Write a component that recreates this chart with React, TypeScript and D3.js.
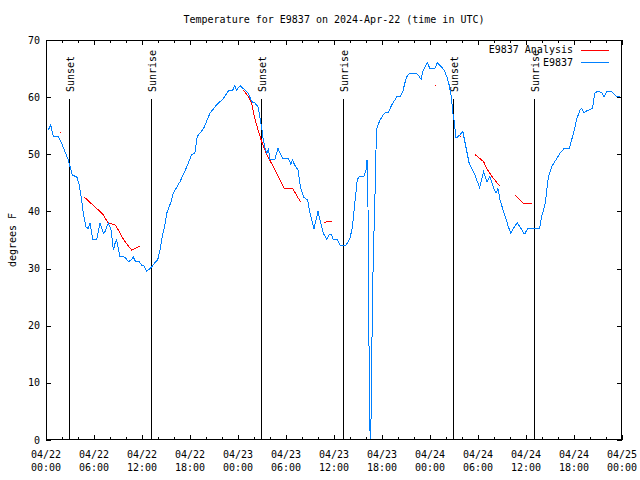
import React from "react";
import * as d3 from "d3";

// ---- data (hours since 2024-04-22 00:00 UTC) ----
const blueHours: number[] = [
  0.29, 0.59, 0.91, 1.54, 1.96, 2.79, 3.29, 3.84, 4.16, 4.46, 4.66, 5.0, 5.29, 5.5, 5.84, 6.34, 6.75, 7.16, 7.38,
  7.79, 8.13, 8.29, 8.42, 8.63, 8.83, 9.04, 9.25, 9.88, 10.29, 10.63, 10.92, 11.2, 11.67, 11.96, 12.29, 12.58,
  12.79, 13.2, 13.6, 13.96, 14.25, 14.54, 14.9, 15.1, 15.4, 15.7, 15.9, 16.75, 17.6, 18.2, 18.6, 18.9, 19.7,
  20.5, 21.3, 22.2, 22.8, 23.3, 23.6, 23.8, 24.3, 24.66, 25.3, 25.7, 26.1, 26.5, 26.8, 27.0, 27.16, 27.4, 27.6,
  27.8, 28.0, 28.6, 29.0, 29.6, 30.3, 30.6, 30.8, 31.1, 31.5, 31.8, 32.2, 32.7, 33.0, 33.5, 33.8, 34.0, 34.3,
  34.66, 35.1, 35.4, 35.7, 35.9, 36.4, 36.75, 37.5, 38.0, 38.3, 38.6, 38.9, 39.2, 39.75, 40.0, 40.1, 40.2,
  40.25, 40.33, 40.46, 40.6, 40.7, 40.9, 41.1, 41.25, 41.3, 41.5, 41.75, 42.2, 42.4, 42.8, 43.2, 43.6, 43.9,
  44.3, 44.6, 44.9, 45.1, 45.5, 46.25, 46.5, 46.9, 47.1, 47.66, 48.0, 48.6, 48.9, 49.3, 49.75, 50.1, 50.4, 50.7,
  50.8, 51.0, 51.25, 51.5, 51.75, 52.1, 52.4, 52.6, 52.9, 53.2, 53.6, 54.2, 54.7, 55.1, 55.5, 55.9, 56.25, 56.5,
  56.75, 57.4, 57.8, 58.1, 58.5, 58.9, 59.3, 59.7, 59.9, 60.2, 61.7, 61.96, 62.4, 62.8, 63.2, 63.6, 64.25, 64.75,
  65.4, 65.7, 66.1, 66.3, 66.75, 66.96, 67.25, 67.6, 68.3, 68.6, 69.0, 69.5, 69.75, 70.1, 70.7, 71.25, 71.75,
];
const blueTemps: number[] = [
  54.25, 55.1, 53.2, 53.1, 51.9, 49, 46.3, 46.1, 44.6, 42, 39.7, 37.3, 37, 38, 35.1, 35.1, 38, 36.2, 36.5,
  38, 36.75, 35, 33.25, 34.4, 35, 33.5, 32.1, 32, 31.2, 31.5, 32, 31.2, 31.2, 30.6, 30.45, 29.5,
  29.75, 30.3, 31, 31.5, 33.25, 35.6, 37.9, 39.7, 40.8, 42, 43.2, 45.2, 47.8, 49.9, 50.2, 53.1, 54.5,
  57.2, 58.6, 59.8, 61.1, 61.1, 62, 61.25, 62, 61.5, 60.7, 59.2, 59, 58.3, 56, 54.25, 52.5, 51, 50.2,
  50.9, 49.1, 49.1, 51, 49.2, 49.2, 48.3, 49, 48.1, 47.25, 44.3, 42.5, 42, 39.7, 37, 38.8, 40, 38.2,
  36.2, 35.1, 36, 35.9, 35.1, 35.1, 34.1, 34.1, 35.3, 37.3, 41.4, 45.5, 46.2, 46.2, 47.25, 49, 49,
  40.8, 24.5, 2.3, 0, 13.4, 31.5, 41.5, 50.75, 54.25, 55.1, 56, 57, 57.3, 57.3, 58.6, 59.5, 60.2,
  60.2, 61, 62.7, 63.6, 64.2, 64.2, 63.9, 63.1, 64.5, 66, 65, 65, 66, 65.5, 64.75, 63.6, 62.1, 59.8,
  57.75, 56, 52.8, 53.1, 53.4, 54, 51.9, 50.5, 48.4, 47.5, 46.4, 44.2, 47, 45.2, 46.1, 44.3, 43.2, 44,
  42, 39.1, 37.3, 36.2, 37.2, 38, 37.2, 36.2, 36.2, 37, 37, 39.1, 41.4, 46.1, 47.8, 48.7, 50.2, 51,
  51, 52.5, 54.5, 56, 57.75, 58, 57.3, 57.6, 58, 60.7, 61.1, 60.7, 60.1, 61, 61, 60.2, 60.2,
];

// Analysis series; NaN separates segments
const redHours: number[] = [
  1.75, 1.9, NaN,
  4.79, 6.54, 7.16, 7.38, 7.79, 8.2, 8.7, 9.04, 9.46, 9.88, 10.3, 10.7, 11.1, 11.75, NaN,
  24.66, 25.3, 25.7, 26.1, 26.5, 26.96, 27.6, 28.2, 28.8, 29.25, 29.75, 30.8, 31.3, 31.8, NaN,
  34.75, 35.8, NaN,
  48.65, 48.75, NaN,
  51.7, 51.85, NaN,
  53.6, 54.2, 54.7, 55.1, 55.6, 56.1, 56.7, NaN,
  58.6, 59.7, 60.7,
];
const redTemps: number[] = [
  53.9, 53.8, NaN,
  42.5, 40.25, 39.4, 38.8, 38, 37.8, 37.6, 36.75, 35.6, 34.7, 33.95, 33.25, 33.5, 33.95, NaN,
  61.25, 60.1, 58.9, 56.3, 54.25, 52.2, 49.9, 48.4, 46.7, 45.5, 44.05, 44.05, 42.9, 41.7, NaN,
  38.1, 38.3, NaN,
  62, 62, NaN,
  53.3, 53.1, NaN,
  50, 49.3, 48.7, 47.5, 46.4, 45.5, 44.45, NaN,
  42.9, 41.4, 41.4,
];

const sunHours: number[] = [2.9, 13.125, 26.875, 37.15, 50.9, 61.04];
const sunLabels: string[] = ["Sunset", "Sunrise", "Sunset", "Sunrise", "Sunset", "Sunrise"];

const yTicks: number[] = [0, 10, 20, 30, 40, 50, 60, 70];
const titleText = "Temperature for E9837 on 2024-Apr-22 (time in UTC)";
const yLabel = "degrees F";
const seriesNames: string[] = ["E9837 Analysis", "E9837"];
const seriesColors: string[] = ["#ff0000", "#0080ff"];

const START = new Date(Date.UTC(2024, 3, 22, 0, 0));
const END = new Date(Date.UTC(2024, 3, 25, 0, 0));
const toDate = (h: number) => new Date(START.getTime() + h * 3600 * 1000);

const FONT = "'DejaVu Sans Mono', 'Liberation Mono', monospace";

export default function App() {
  const W = 640, H = 480;
  const L = 46, R = 622, T = 40, B = 440;
  const x = d3.scaleUtc().domain([START, END]).range([L, R]);
  const y = d3.scaleLinear().domain([0, 70]).range([B, T]);

  const majorTicks = d3.utcHour.every(6)!.range(START, new Date(END.getTime() + 1));
  const minorTicks = d3.utcHour.every(2)!.range(START, new Date(END.getTime() + 1))
    .filter((d) => d.getUTCHours() % 6 !== 0);
  const fmtDate = d3.utcFormat("%m/%d");
  const fmtTime = d3.utcFormat("%H:%M");

  const blue = blueHours.map((h, i) => ({ t: toDate(h), v: blueTemps[i] }));
  const red = redHours.map((h, i) => ({ t: isNaN(h) ? null : toDate(h), v: redTemps[i] }));

  const lineGen = d3.line<{ t: Date | null; v: number }>()
    .defined((d) => d.t !== null && !isNaN(d.v))
    .x((d) => x(d.t as Date))
    .y((d) => y(d.v));

  return (
    <svg width={W} height={H} style={{ display: "block", position: "absolute", left: 0, top: 0 }}
      fontFamily={FONT} fontSize={10}>
      <rect width={W} height={H} fill="#fff" />
      <text x={(L + R) / 2} y={23} textAnchor="middle" fill="#000">{titleText}</text>

      {/* sun lines */}
      {sunHours.map((h, i) => {
        const sx = Math.round(x(toDate(h))) + 0.5;
        return (
          <g key={"s" + i}>
            <line x1={sx} x2={sx} y1={99} y2={B} stroke="#000" strokeWidth={1} shapeRendering="crispEdges" />
            <text transform={`translate(${sx + 4},92) rotate(-90)`} textAnchor="start" fill="#000">
              {sunLabels[i]}
            </text>
          </g>
        );
      })}

      {/* data lines */}
      <path d={lineGen(red as any) || ""} fill="none" stroke={seriesColors[0]} strokeWidth={1}
        shapeRendering="crispEdges" />
      <path d={lineGen(blue as any) || ""} fill="none" stroke={seriesColors[1]} strokeWidth={1}
        shapeRendering="crispEdges" />

      {/* frame */}
      <rect x={L + 0.5} y={T + 0.5} width={R - L - 1} height={B - T - 1} fill="none" stroke="#000"
        strokeWidth={1} shapeRendering="crispEdges" />

      {/* x ticks */}
      {majorTicks.map((d, i) => {
        const tx = Math.round(x(d)) + 0.5;
        return (
          <g key={"mx" + i}>
            <line x1={tx} x2={tx} y1={B} y2={B - 5} stroke="#000" shapeRendering="crispEdges" />
            <line x1={tx} x2={tx} y1={T} y2={T + 5} stroke="#000" shapeRendering="crispEdges" />
            <text x={x(d)} y={458} textAnchor="middle" fill="#000">{fmtDate(d)}</text>
            <text x={x(d)} y={471} textAnchor="middle" fill="#000">{fmtTime(d)}</text>
          </g>
        );
      })}
      {minorTicks.map((d, i) => {
        const tx = Math.round(x(d)) + 0.5;
        return (
          <g key={"nx" + i}>
            <line x1={tx} x2={tx} y1={B} y2={B - 3} stroke="#000" shapeRendering="crispEdges" />
            <line x1={tx} x2={tx} y1={T} y2={T + 3} stroke="#000" shapeRendering="crispEdges" />
          </g>
        );
      })}

      {/* y ticks */}
      {yTicks.map((v, i) => {
        const ty = Math.round(y(v)) + 0.5;
        return (
          <g key={"y" + i}>
            <line x1={L} x2={L + 5} y1={ty} y2={ty} stroke="#000" shapeRendering="crispEdges" />
            <line x1={R} x2={R - 5} y1={ty} y2={ty} stroke="#000" shapeRendering="crispEdges" />
            <text x={40} y={y(v) + 3.5} textAnchor="end" fill="#000">{v}</text>
          </g>
        );
      })}

      <text transform={`translate(16,${(T + B) / 2}) rotate(-90)`} textAnchor="middle" fill="#000">{yLabel}</text>

      {/* legend */}
      {seriesNames.map((n, i) => {
        const ly = 49.5 + i * 12.5;
        return (
          <g key={"l" + i}>
            <text x={573} y={ly + 3.5} textAnchor="end" fill="#000">{n}</text>
            <line x1={581} x2={609} y1={Math.round(ly) + 0.5} y2={Math.round(ly) + 0.5} stroke={seriesColors[i]}
              shapeRendering="crispEdges" />
          </g>
        );
      })}
    </svg>
  );
}
